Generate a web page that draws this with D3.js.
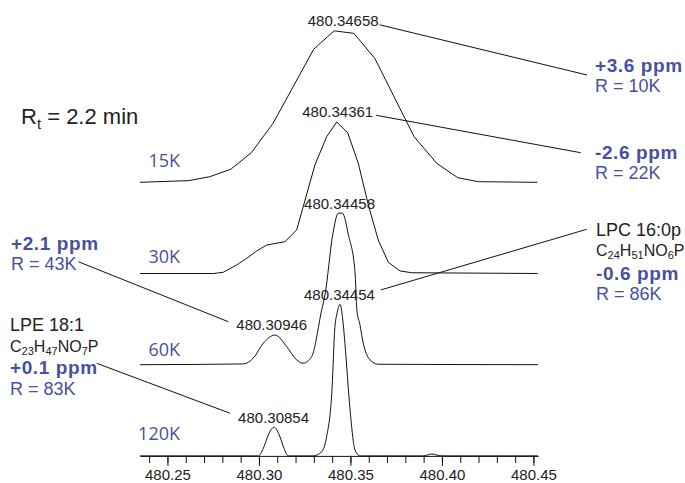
<!DOCTYPE html>
<html>
<head>
<meta charset="utf-8">
<script src="https://cdn.jsdelivr.net/npm/d3@7"></script>
<style>
    body { margin: 0; background: #fff; }
    text { font-family: "Liberation Sans", Arial, sans-serif; }
</style>
</head>
<body>
<div id="chart"></div>
<script>

// Resolution settings, one trace each, from top to bottom.
const resolutions = ["15K", "30K", "60K", "120K"];

// Profile points: m/z and relative intensity (%).
const mz15 = [480.2350, 480.2616, 480.2731, 480.2846, 480.2958, 480.3077, 480.3299, 480.3411, 480.3519, 480.3633, 480.3848, 480.3972, 480.4087, 480.4199, 480.4521];
const int15 = [0, 1.1, 3.7, 8.6, 19.5, 38.9, 87.8, 100, 98.3, 81.8, 30.1, 12.5, 3.0, 0.4, 0];

const mz30 = [480.2350, 480.2751, 480.2805, 480.2878, 480.2933, 480.2988, 480.3042, 480.3142, 480.3206, 480.3306, 480.3370, 480.3425, 480.3485, 480.3543, 480.3598, 480.3652, 480.3707, 480.3771, 480.3835, 480.4524];
const int30 = [0, 0, 0.8, 5.6, 10.0, 14.9, 18.8, 21.0, 28.7, 71.6, 90.3, 100, 92.9, 72.7, 45.2, 22.1, 7.4, 1.7, 0.5, 0];

const mz60 = [480.2350, 480.2915, 480.2969, 480.3024, 480.3088, 480.3152, 480.3206, 480.3242, 480.3288, 480.3343, 480.3361, 480.3403, 480.3434, 480.3456, 480.3489, 480.3525, 480.3535, 480.3552, 480.3570, 480.3607, 480.3652, 480.4524];
const int60 = [0, 0.5, 4.3, 14.2, 19.6, 11.9, 3.2, 1.0, 5.3, 36.2, 46.1, 85.7, 100, 100, 85.7, 61.4, 36.2, 26.3, 14.2, 3.2, 0.3, 0];

const mz120 = [480.2350, 480.2996, 480.3024, 480.3051, 480.3082, 480.3111, 480.3137, 480.3160, 480.3297, 480.3343, 480.3370, 480.3398, 480.3416, 480.3425, 480.3443, 480.3461, 480.3470, 480.3498, 480.3525, 480.3552, 480.3898, 480.3944, 480.3999, 480.4524];
const int120 = [0, 0, 5.0, 13.8, 18.9, 13.8, 5.0, 0, 0, 2.8, 12.7, 41.3, 86.4, 93.0, 100, 86.4, 74.2, 30.3, 3.9, 0, 0, 1.2, 0, 0];

// Peak labels: text, m/z and the trace they belong to.
const peakLabels = ["480.34658", "480.34361", "480.34458", "480.34454", "480.30946", "480.30854"];
const peakMz = [480.34658, 480.34361, 480.34458, 480.34454, 480.30946, 480.30854];
const peakTrace = [0, 1, 2, 3, 2, 3];

// Axis ticks.
const majorTicks = [480.25, 480.30, 480.35, 480.40, 480.45];
const minorTicks = [480.24, 480.25, 480.26, 480.27, 480.28, 480.29, 480.30, 480.31, 480.32, 480.33, 480.34, 480.35, 480.36, 480.37, 480.38, 480.39, 480.40, 480.41, 480.42, 480.43, 480.44, 480.45];

const traces = [
    d3.zip(mz15, int15),
    d3.zip(mz30, int30),
    d3.zip(mz60, int60),
    d3.zip(mz120, int120)
];

const width = 685;
const height = 483;
const blue = "#4750a3";

const svg = d3.select("#chart").append("svg")
    .attr("width", width)
    .attr("height", height);

// Scales: m/z along x, each trace gets its own baseline.
const x = d3.scaleLinear()
    .domain([480.235, 480.4525])
    .range([140, 538]);

const y = d3.scaleLinear()
    .domain([0, 100])
    .range([0, -151.5]);

const baselines = resolutions.map((d, i) => 182.3 + i * 91.2);

const line = d3.line()
    .x(d => x(d[0]))
    .y(d => y(d[1]));

// Draw the traces.
traces.forEach(function (trace, i) {
    svg.append("path")
        .attr("transform", "translate(0," + baselines[i] + ")")
        .attr("d", line.curve(i < 2 ? d3.curveLinear : d3.curveMonotoneX)(trace))
        .style("fill", "none")
        .style("stroke", "#111")
        .style("stroke-width", 1);
});

// Resolution labels.
const kLabelY = [166.7, 263.1, 355.7, 440.4];
svg.selectAll(".res-label")
    .data(resolutions)
    .enter().append("text")
    .attr("class", "res-label")
    .attr("x", 180)
    .attr("y", (d, i) => kLabelY[i])
    .attr("text-anchor", "end")
    .style("font-family", "'Open Sans', sans-serif")
    .style("font-size", "18px")
    .style("fill", blue)
    .text(d => d);

// Axes: major ticks with labels, minor ticks without.
const axisG = svg.append("g")
    .attr("transform", "translate(0," + baselines[3] + ")");

axisG.append("g")
    .call(d3.axisBottom(x).tickValues(minorTicks).tickSize(7).tickSizeOuter(0).tickFormat(""))
    .call(g => g.select(".domain").remove());

axisG.append("g")
    .call(d3.axisBottom(x).tickValues(majorTicks).tickSize(10).tickSizeOuter(0).tickPadding(3).tickFormat(d3.format(".2f")))
    .call(g => g.selectAll("text").style("font-family", "'Liberation Sans', Arial, sans-serif").style("font-size", "15px").style("fill", "#222"));

axisG.selectAll("path, line").style("stroke", "#111");

// Peak labels, centred over each peak.
const labelDx = [-1, -1, -1, -1, -4.5, -1];
const labelNodes = peakLabels.map(function (label, i) {
    const trace = traces[peakTrace[i]];
    const top = d3.max(trace.filter(d => Math.abs(d[0] - peakMz[i]) < 0.006), d => d[1]);
    const cy = baselines[peakTrace[i]] + y(top) - 10;
    const t = svg.append("text")
        .attr("x", x(peakMz[i]) + labelDx[i])
        .attr("y", cy + 5.4)
        .attr("text-anchor", "middle")
        .style("font-size", "15px")
        .style("fill", "#222")
        .text(label);
    return { node: t.node(), cx: x(peakMz[i]) + labelDx[i], cy: cy };
});

// Leader lines from peak labels to the annotation blocks.
const leaders = [
    { label: 0, side: "right", gap: 1, dy: 4, to: [587, 75] },
    { label: 1, side: "right", gap: 3, dy: 3.3, to: [580.7, 152.7] },
    { label: 3, side: "right", gap: 6, dy: -4.5, to: [586.7, 229.3] },
    { label: 4, side: "left", gap: 8, dy: -3.3, to: [78.3, 261.7] },
    { label: 5, side: "left", gap: 8, dy: -4, to: [96.7, 363.3] }
];

leaders.forEach(function (l) {
    const lab = labelNodes[l.label];
    const half = lab.node.getComputedTextLength() / 2;
    const x0 = l.side === "right" ? lab.cx + half + l.gap : lab.cx - half - l.gap;
    svg.append("line")
        .attr("x1", x0)
        .attr("y1", lab.cy + l.dy)
        .attr("x2", l.to[0])
        .attr("y2", l.to[1])
        .style("stroke", "#111")
        .style("stroke-width", 1);
});

// Annotation text blocks.
function ppm(xp, yp, txt) {
    svg.append("text").attr("x", xp).attr("y", yp)
        .style("font-size", "19px").style("font-weight", "bold").style("fill", blue)
        .style("letter-spacing", "0.6px")
        .text(txt);
}
function res(xp, yp, txt) {
    svg.append("text").attr("x", xp).attr("y", yp)
        .style("font-size", "18px").style("fill", blue)
        .text(txt);
}
function formula(xp, yp, parts) {
    const t = svg.append("text").attr("x", xp).attr("y", yp)
        .style("font-size", "16px").style("fill", "#222");
    parts.forEach(function (p, i) {
        if (i % 2 === 0) {
            t.append("tspan").attr("dy", i === 0 ? 0 : -3).text(p);
        } else {
            t.append("tspan").attr("dy", 3).style("font-size", "11px").text(p);
        }
    });
}

ppm(595, 71.8, "+3.6 ppm");
res(595, 92.4, "R = 10K");

ppm(595, 158.5, "-2.6 ppm");
res(595, 179.4, "R = 22K");

svg.append("text").attr("x", 596).attr("y", 236.4)
    .style("font-size", "18px").style("fill", "#222").text("LPC 16:0p");
formula(596, 256.4, ["C", "24", "H", "51", "NO", "6", "P"]);
ppm(596, 279.5, "-0.6 ppm");
res(596, 299.7, "R = 86K");

ppm(11, 249.5, "+2.1 ppm");
res(11, 269.7, "R = 43K");

svg.append("text").attr("x", 10).attr("y", 331.4)
    .style("font-size", "18px").style("fill", "#222").text("LPE 18:1");
formula(10, 352.4, ["C", "23", "H", "47", "NO", "7", "P"]);
ppm(10, 373.5, "+0.1 ppm");
res(10, 395.4, "R = 83K");

// Retention time.
const rt = svg.append("text").attr("x", 21).attr("y", 124)
    .style("font-size", "22px").style("fill", "#222");
rt.append("tspan").text("R");
rt.append("tspan").attr("dy", 5).style("font-size", "15px").text("t");
rt.append("tspan").attr("dy", -5).text(" = 2.2 min");

</script>
</body>
</html>
